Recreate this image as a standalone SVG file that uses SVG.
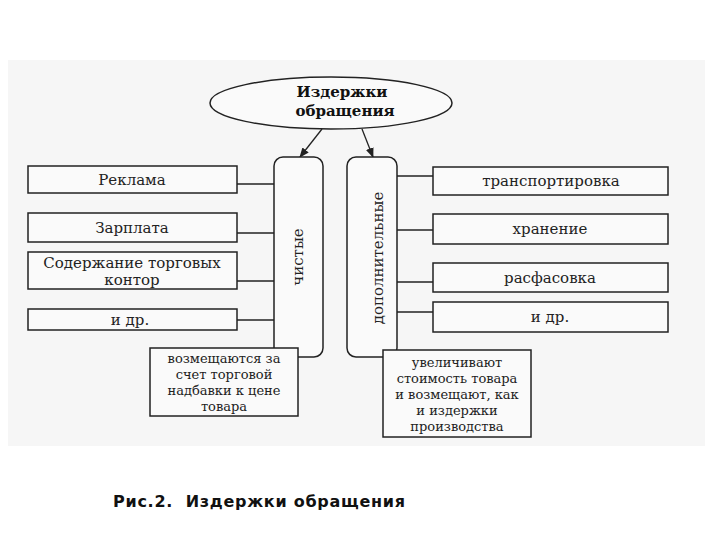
<svg xmlns="http://www.w3.org/2000/svg" width="720" height="540" viewBox="0 0 720 540">
<defs>
<marker id="ah" markerWidth="10" markerHeight="8" refX="9" refY="4" orient="auto" markerUnits="userSpaceOnUse">
<path d="M0,0 L10,4 L0,8 Z" fill="#222"/>
</marker>
<style>
.bx{fill:#fafafa;stroke:#222;stroke-width:1.5}
.col{fill:#fafafa;stroke:#222;stroke-width:1.5}
.t{font-family:"DejaVu Serif","Liberation Serif",serif;font-size:15px;fill:#222;text-anchor:middle}
.n{font-family:"DejaVu Serif","Liberation Serif",serif;font-size:13px;fill:#222;text-anchor:middle}
.tb{font-family:"DejaVu Serif","Liberation Serif",serif;font-size:15px;font-weight:bold;fill:#111;text-anchor:middle}
.ln{stroke:#222;stroke-width:1.3;fill:none}
</style>
</defs>
<rect x="0" y="0" width="720" height="540" fill="#ffffff"/>
<rect x="8" y="60" width="697" height="386" fill="#f6f6f6"/>

<g id="connectors">
<line class="ln" x1="322" y1="129" x2="300" y2="157" marker-end="url(#ah)"/>
<line class="ln" x1="362" y1="129" x2="373" y2="157" marker-end="url(#ah)"/>
<line class="ln" x1="237" y1="184" x2="274" y2="184"/>
<line class="ln" x1="237" y1="233" x2="274" y2="233"/>
<line class="ln" x1="237" y1="281" x2="274" y2="281"/>
<line class="ln" x1="237" y1="320" x2="274" y2="320"/>
<line class="ln" x1="397" y1="176" x2="433" y2="176"/>
<line class="ln" x1="397" y1="230" x2="433" y2="230"/>
<line class="ln" x1="397" y1="282" x2="433" y2="282"/>
<line class="ln" x1="397" y1="312" x2="433" y2="312"/>
</g>

<g id="root">
<ellipse cx="331" cy="103" rx="121" ry="26" fill="#fafafa" stroke="#222" stroke-width="1.5"/>
<text class="tb" x="342" y="97">Издержки</text>
<text class="tb" x="345" y="116">обращения</text>
</g>

<g id="net">
<rect class="col" x="274" y="157" width="49" height="200" rx="9"/>
<text class="t" transform="translate(303,257) rotate(-90)">чистые</text>
</g>

<g id="add">
<rect class="col" x="347" y="157" width="50" height="200" rx="9"/>
<text class="t" transform="translate(383,258) rotate(-90)">дополнительные</text>
</g>

<g id="l1"><rect class="bx" x="28" y="166" width="209" height="27"/><text class="t" x="132" y="185">Реклама</text></g>
<g id="l2"><rect class="bx" x="28" y="213" width="209" height="29"/><text class="t" x="132" y="233">Зарплата</text></g>
<g id="l3"><rect class="bx" x="28" y="252" width="209" height="37"/><text class="t" x="132" y="268">Содержание торговых</text><text class="t" x="132" y="285">контор</text></g>
<g id="l4"><rect class="bx" x="28" y="309" width="209" height="21"/><text class="t" x="130" y="325">и др.</text></g>

<g id="r1"><rect class="bx" x="433" y="167" width="235" height="28"/><text class="t" x="551" y="186">транспортировка</text></g>
<g id="r2"><rect class="bx" x="433" y="214" width="235" height="30"/><text class="t" x="550" y="234">хранение</text></g>
<g id="r3"><rect class="bx" x="433" y="263" width="235" height="29"/><text class="t" x="550" y="283">расфасовка</text></g>
<g id="r4"><rect class="bx" x="433" y="302" width="235" height="30"/><text class="t" x="550" y="322">и др.</text></g>

<g id="lnote"><rect class="bx" x="150" y="348" width="148" height="68"/>
<text class="n" x="224" y="363">возмещаются за</text>
<text class="n" x="224" y="379">счет торговой</text>
<text class="n" x="224" y="395">надбавки к цене</text>
<text class="n" x="224" y="411">товара</text></g>

<g id="rnote"><rect class="bx" x="383" y="350" width="148" height="87"/>
<text class="n" x="457" y="367">увеличивают</text>
<text class="n" x="457" y="383">стоимость товара</text>
<text class="n" x="457" y="399">и возмещают, как</text>
<text class="n" x="457" y="415">и издержки</text>
<text class="n" x="457" y="431">производства</text></g>

<text x="113" y="507" xml:space="preserve" textLength="292" lengthAdjust="spacing" font-family="DejaVu Sans, Liberation Sans, sans-serif" font-size="16" font-weight="bold" fill="#111">Рис.2.  Издержки обращения</text>
</svg>
